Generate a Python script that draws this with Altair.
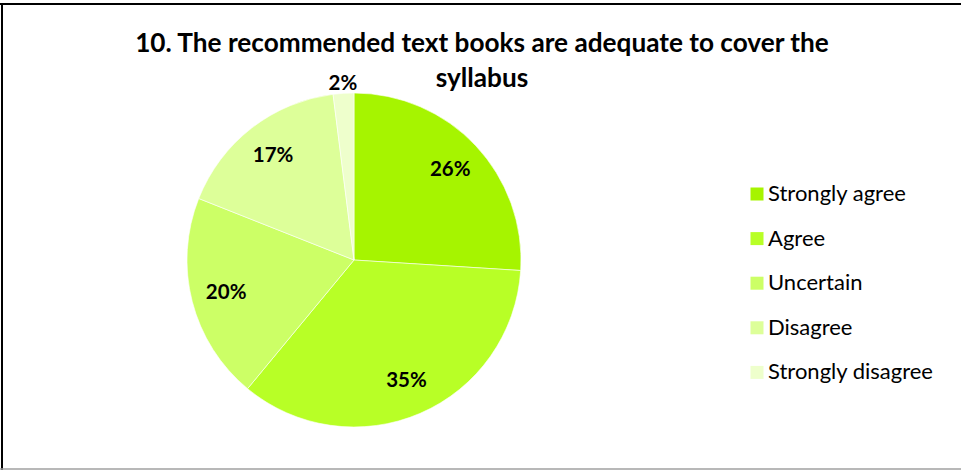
import altair as alt
import pandas as pd

categories = ["Strongly agree", "Agree", "Uncertain", "Disagree", "Strongly disagree"]
percents = [26, 35, 20, 17, 2]
colors = ["#A6F400", "#B8FF26", "#CCFF66", "#DDFF99", "#EEFFCC"]
title_lines = ["10. The recommended text books are adequate to cover the", "syllabus"]

df = pd.DataFrame({
    "category": categories,
    "percent": percents,
    "idx": list(range(len(categories))),
    "label": [f"{p}%" for p in percents],
})

W, H = 961, 470
CX, CY, R = 354, 260, 167

pie = alt.Chart(df).mark_arc(outerRadius=R, stroke="white", strokeWidth=0.6).encode(
    theta=alt.Theta("percent:Q", stack=True),
    order=alt.Order("idx:Q", sort="ascending"),
    x=alt.value(CX),
    y=alt.value(CY),
    color=alt.Color(
        "category:N",
        scale=alt.Scale(domain=categories, range=colors),
        sort=categories,
        legend=alt.Legend(
            title=None,
            orient="none",
            legendX=746,
            legendY=183,
            symbolType="square",
            symbolSize=169,
            symbolStrokeWidth=0,
            labelFont="Lato",
            labelFontSize=22,
            labelColor="black",
            labelOffset=0,
            labelLimit=300,
            rowPadding=22.6,
        ),
    ),
)

labels = alt.Chart(df).transform_window(
    cum="sum(percent)", sort=[alt.SortField("idx", order="ascending")]
).transform_calculate(
    mid="datum.cum - datum.percent / 2",
    lr="datum.percent < 5 ? 176 : 132",
).mark_text(font="Lato", fontWeight="bold", fontSize=20.5, color="black").encode(
    theta=alt.Theta("mid:Q", stack=None, scale=alt.Scale(domain=[0, 100])),
    x=alt.value(CX),
    y=alt.value(CY),
    radius=alt.Radius("lr:Q", scale=None),
    text="label:N",
)

tdf = pd.DataFrame({"line": title_lines, "n": [0, 1]})
title = alt.Chart(tdf).mark_text(
    font="Lato", fontWeight="bold", fontSize=26.2, color="black", baseline="middle", align="center"
).encode(
    x=alt.value(482),
    y=alt.Y("n:Q", scale=alt.Scale(domain=[0, 1], range=[44, 79]), axis=None),
    text="line:N",
)

top_line = alt.Chart(tdf.head(1)).mark_rule(color="black", strokeWidth=2).encode(
    x=alt.value(0), x2=alt.value(W), y=alt.value(4)
)
left_line = alt.Chart(tdf.head(1)).mark_rule(color="black", strokeWidth=2).encode(
    x=alt.value(2), y=alt.value(3), y2=alt.value(H)
)
bottom_line = alt.Chart(tdf.head(1)).mark_rule(color="#A0A0A0", strokeWidth=1.5).encode(
    x=alt.value(0), x2=alt.value(W), y=alt.value(469)
)

chart = alt.layer(pie, labels, title, top_line, left_line, bottom_line).resolve_scale(
    theta="independent", y="independent"
).properties(
    width=W, height=H, padding=0, autosize=alt.AutoSizeParams(type="none"),
    background="white",
).configure_view(stroke=None)

chart.save("out.html", embed_options={"renderer": "svg", "actions": False})
